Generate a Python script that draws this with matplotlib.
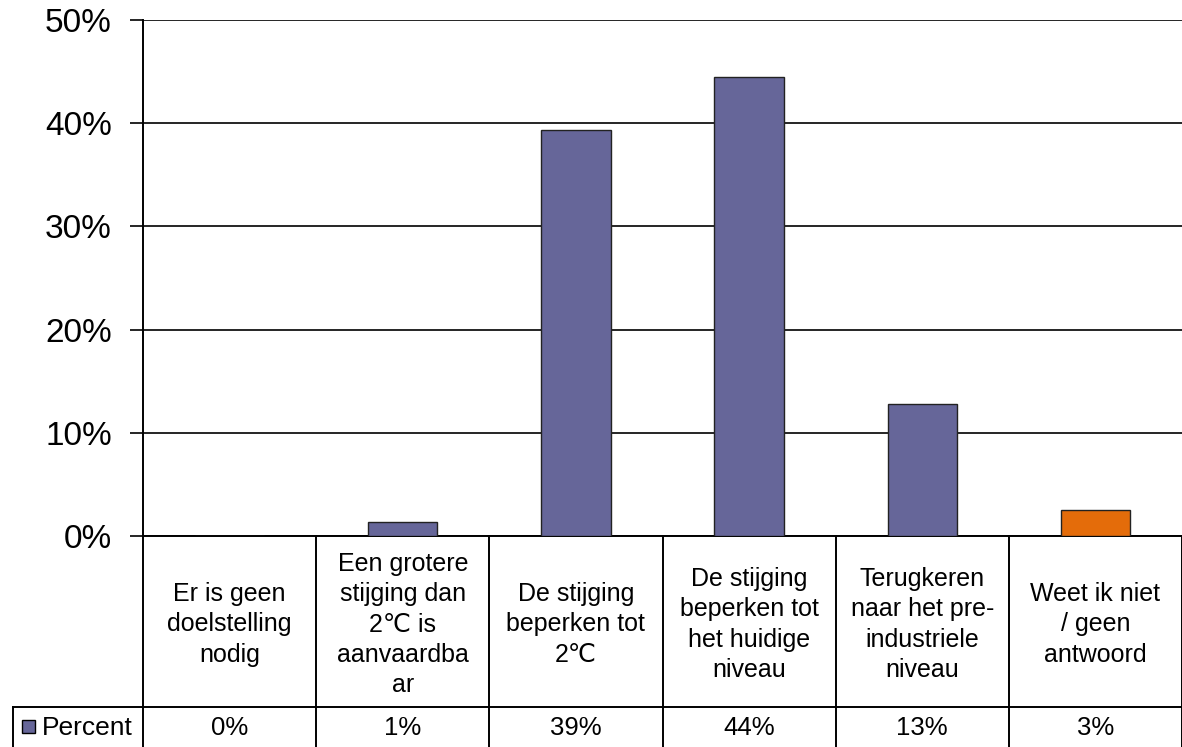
import matplotlib
matplotlib.use('agg')
import matplotlib.pyplot as plt
from matplotlib.patches import Rectangle

plt.rcParams['font.family'] = ['Liberation Sans', 'DejaVu Sans']

categories = [
  "Er is geen\ndoelstelling\nnodig",
  "Een grotere\nstijging dan\n2\u2103 is\naanvaardba\nar",
  "De stijging\nbeperken tot\n2\u2103",
  "De stijging\nbeperken tot\nhet huidige\nniveau",
  "Terugkeren\nnaar het pre-\nindustriele\nniveau",
  "Weet ik niet\n/ geen\nantwoord",
]
values = [0.0, 1.35, 39.3, 44.5, 12.8, 2.5]
table_labels = ["0%", "1%", "39%", "44%", "13%", "3%"]
series_name = "Percent"
yticks = [0, 10, 20, 30, 40, 50]

purple = '#666699'
orange = '#E46C0A'
colors = [purple] * 5 + [orange]

W, H = 1182, 747
# pixel layout
px_left, px_right = 143, 1182
px_top, px_zero = 20, 536
px_row, px_bottom = 707, 747
px_leg = 13

fig = plt.figure(figsize=(W / 100, H / 100), dpi=100)
ax = fig.add_axes([px_left / W, (H - px_zero) / H, (px_right - px_left) / W, (px_zero - px_top) / H])

n = len(categories)
x = list(range(n))
ax.bar(x, values, width=0.4, color=colors, edgecolor='#222222', linewidth=1.0, zorder=3)
ax.set_xlim(-0.5, n - 0.5)
ax.set_ylim(0, 50)
ax.set_yticks(yticks)
ax.set_yticklabels([f"{t}%" for t in yticks], fontsize=24)
ax.tick_params(axis='y', length=9.5, width=1.2, pad=13)
ax.tick_params(axis='x', bottom=False, labelbottom=False)
for t in yticks:
  ax.axhline(t, color='black', linewidth=1.2, zorder=1)
for s in ['top', 'right']:
  ax.spines[s].set_visible(False)
ax.spines['left'].set_linewidth(1.4)
ax.spines['bottom'].set_linewidth(1.4)

# data table below the plot
unit = (px_right - px_left) / n
tab = fig.add_axes([px_leg / W, 0, (px_right - px_leg) / W, (H - px_zero) / H])
tab.set_xlim(-0.5 - (px_left - px_leg) / unit, n - 0.5)
tab.set_ylim(px_bottom, px_zero)
tab.axis('off')

lw = 1.4
for i in range(n + 1):
  tab.plot([i - 0.5, i - 0.5], [px_zero, px_bottom], color='black', linewidth=lw, clip_on=False)
x_leg = -0.5 - (px_left - px_leg) / unit
tab.plot([x_leg, n - 0.5], [px_row, px_row], color='black', linewidth=lw, clip_on=False)
tab.plot([x_leg, x_leg], [px_row, px_bottom], color='black', linewidth=lw, clip_on=False)

for i, (cat, lab) in enumerate(zip(categories, table_labels)):
  tab.text(i, (px_zero + px_row) / 2 + 3, cat, ha='center', va='center', fontsize=18, linespacing=1.33)
  tab.text(i, (px_row + px_bottom) / 2 + 1, lab, ha='center', va='center', fontsize=18.5)

sq = 13 / unit
tab.add_patch(Rectangle((x_leg + 9 / unit, 720), sq, 13, facecolor=purple, edgecolor='black', linewidth=1.0, clip_on=False))
tab.text(x_leg + 29 / unit, (px_row + px_bottom) / 2 + 1, series_name, ha='left', va='center', fontsize=19)

fig.savefig('out.png', dpi=100)
plt.close(fig)
